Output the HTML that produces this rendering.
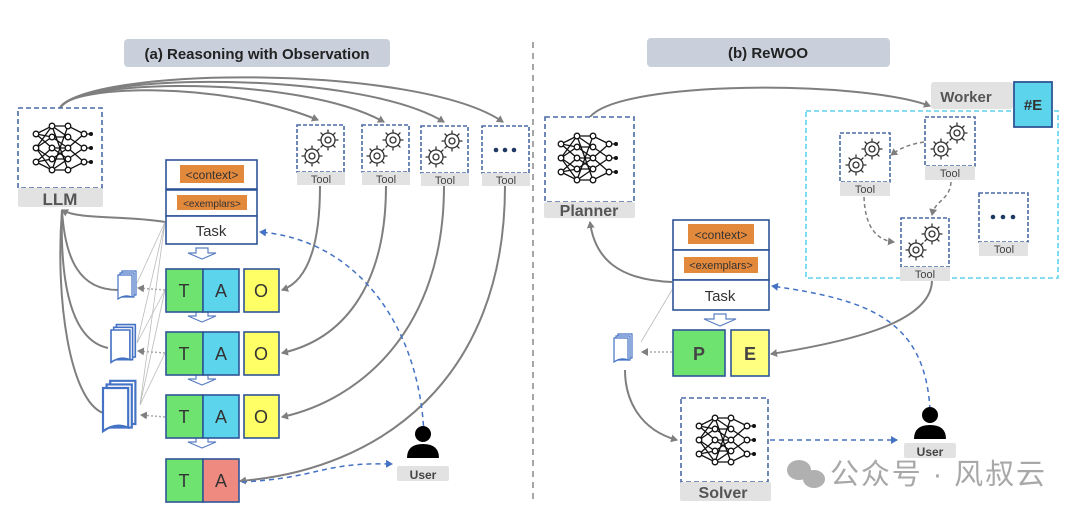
<!DOCTYPE html>
<html><head><meta charset="utf-8"><style>
html,body{margin:0;padding:0;background:#fff}
svg{display:block}
text{font-family:"Liberation Sans","Noto Sans CJK SC",sans-serif}
</style></head><body>
<svg width="1080" height="518" viewBox="0 0 1080 518" xmlns="http://www.w3.org/2000/svg">
<defs>
<marker id="ag" markerWidth="8" markerHeight="8" refX="6" refY="4" orient="auto" markerUnits="userSpaceOnUse"><path d="M0,0 L7,4 L0,8 z" fill="#7f7f7f"/></marker>
<marker id="ab" markerWidth="8" markerHeight="8" refX="6" refY="4" orient="auto" markerUnits="userSpaceOnUse"><path d="M0,0 L7,4 L0,8 z" fill="#4472c4"/></marker>
<g id="net" fill="none" stroke="#111" stroke-width="1.3">
<path d="M-24,-14 L-8,-22 L8,-22 L24,-14 M-24,0 L-8,-11 L8,-11 L24,0 M-24,14 L-8,0 L8,0 L24,14 M-24,-14 L-8,-11 L8,0 L24,14 M-24,14 L-8,11 L8,0 L24,-14 M-24,0 L-8,11 L8,11 L24,0 M-24,14 L-8,22 L8,22 L24,14 M-24,-14 L-8,0 L8,11 L24,0 M-24,0 L-8,22 L8,11 M-24,0 L-8,-22 L8,-11 M-8,-22 L8,22 M-8,22 L8,-22 M24,-14 L30,-14 M24,0 L30,0 M24,14 L30,14"/>
<g fill="#fff"><circle cx="-24" cy="-14" r="2.8"/><circle cx="-24" cy="0" r="2.8"/><circle cx="-24" cy="14" r="2.8"/><circle cx="-8" cy="-22" r="2.8"/><circle cx="-8" cy="-11" r="2.8"/><circle cx="-8" cy="0" r="2.8"/><circle cx="-8" cy="11" r="2.8"/><circle cx="-8" cy="22" r="2.8"/><circle cx="8" cy="-22" r="2.8"/><circle cx="8" cy="-11" r="2.8"/><circle cx="8" cy="0" r="2.8"/><circle cx="8" cy="11" r="2.8"/><circle cx="8" cy="22" r="2.8"/><circle cx="24" cy="-14" r="2.8"/><circle cx="24" cy="0" r="2.8"/><circle cx="24" cy="14" r="2.8"/></g>
<g fill="#111" stroke="none"><circle cx="31" cy="-14" r="2"/><circle cx="31" cy="0" r="2"/><circle cx="31" cy="14" r="2"/></g>
</g>
<g id="gear1" fill="none" stroke="#333" stroke-width="1.3"><circle r="7"/><circle r="3"/><path d="M0,-10.5V-7M0,7V10.5M-10.5,0H-7M7,0H10.5M-7.4,-7.4L-4.9,-4.9M4.9,4.9L7.4,7.4M-7.4,7.4L-4.9,4.9M4.9,-4.9L7.4,-7.4"/></g>
<g id="gears"><use href="#gear1" x="8" y="-8"/><use href="#gear1" x="-8" y="8"/></g>
<g id="doc" fill="#fff" stroke="#4472c4" stroke-width="1.2"><path d="M4,-4 h14 v24 h-14z"/><path d="M2,-2 h14 v24 h-14z"/><path d="M0,0 h14 v22 q-7,-3 -14,2z"/></g>
<g id="user"><circle cx="0" cy="-10" r="8" fill="#000"/><path d="M-16,14 q0,-14 16,-14 q16,0 16,14z" fill="#000"/></g>
</defs>

<!-- titles -->
<rect x="124" y="39" width="266" height="28" rx="4" fill="#c9d0dc"/>
<text x="257" y="59" font-size="15" font-weight="bold" text-anchor="middle" fill="#222">(a) Reasoning with Observation</text>
<rect x="647" y="38" width="243" height="29" rx="4" fill="#c9d0dc"/>
<text x="768" y="58" font-size="15" font-weight="bold" text-anchor="middle" fill="#222">(b) ReWOO</text>
<line x1="533" y1="42" x2="533" y2="500" stroke="#888" stroke-width="1.5" stroke-dasharray="6,5"/>

<!-- LEFT -->
<g fill="none" stroke="#7f7f7f" stroke-width="2">
<path d="M60,108 C70,85 220,80 318,120" marker-end="url(#ag)"/>
<path d="M60,108 C75,78 300,75 384,122" marker-end="url(#ag)"/>
<path d="M60,108 C80,72 360,70 444,122" marker-end="url(#ag)"/>
<path d="M60,108 C90,66 420,64 503,122" marker-end="url(#ag)"/>
<path d="M320,186 C320,240 310,280 282,290" marker-end="url(#ag)"/>
<path d="M386,186 C386,290 340,340 282,353" marker-end="url(#ag)"/>
<path d="M444,186 C444,330 360,400 282,417" marker-end="url(#ag)"/>
<path d="M505,186 C505,380 380,470 240,481" marker-end="url(#ag)"/>
<path d="M165,222 C120,215 80,220 62,210" marker-end="url(#ag)"/>
<path d="M118,290 C80,290 65,260 62,210"/>
<path d="M108,348 C70,340 60,280 62,210"/>
<path d="M103,413 C70,400 55,300 62,210"/>
</g>
<g stroke="#bbb" stroke-width="0.8" fill="none">
<path d="M165,222 L137,283 M165,222 L137,343 M165,222 L140,405 M165,290 L137,343 M165,290 L140,405 M165,353 L140,405"/>
</g>
<g stroke="#aaa" stroke-width="1.5" stroke-dasharray="2,2" fill="none">
<path d="M165,290 L138,288" marker-end="url(#ag)"/><path d="M165,353 L138,351" marker-end="url(#ag)"/><path d="M165,417 L141,415" marker-end="url(#ag)"/>
</g>
<rect x="18" y="108" width="84" height="80" fill="#fff" stroke="#4a6aa5" stroke-width="1.6" stroke-dasharray="5,3"/>
<use href="#net" x="60" y="148"/>
<rect x="18" y="188" width="85" height="19" rx="2" fill="#e2e2e2"/>
<text x="60" y="205" font-size="17" font-weight="bold" text-anchor="middle" fill="#555">LLM</text>

<g>
<rect x="297" y="125" width="47" height="47" fill="#fff" stroke="#4a6aa5" stroke-width="1.6" stroke-dasharray="4,2"/><use href="#gears" x="320" y="148"/>
<rect x="297" y="172" width="48" height="13" fill="#e2e2e2"/><text x="321" y="183" font-size="11" text-anchor="middle" fill="#444">Tool</text>
<rect x="362" y="125" width="47" height="47" fill="#fff" stroke="#4a6aa5" stroke-width="1.6" stroke-dasharray="4,2"/><use href="#gears" x="385" y="148"/>
<rect x="362" y="172" width="48" height="13" fill="#e2e2e2"/><text x="386" y="183" font-size="11" text-anchor="middle" fill="#444">Tool</text>
<rect x="421" y="126" width="47" height="47" fill="#fff" stroke="#4a6aa5" stroke-width="1.6" stroke-dasharray="4,2"/><use href="#gears" x="444" y="149"/>
<rect x="421" y="173" width="48" height="13" fill="#e2e2e2"/><text x="445" y="184" font-size="11" text-anchor="middle" fill="#444">Tool</text>
<rect x="482" y="126" width="47" height="47" fill="#fff" stroke="#4a6aa5" stroke-width="1.6" stroke-dasharray="4,2"/>
<circle cx="496" cy="150" r="2.3" fill="#1f3864"/><circle cx="505" cy="150" r="2.3" fill="#1f3864"/><circle cx="514" cy="150" r="2.3" fill="#1f3864"/>
<rect x="482" y="173" width="48" height="13" fill="#e2e2e2"/><text x="506" y="184" font-size="11" text-anchor="middle" fill="#444">Tool</text>
</g>

<g stroke="#2f5597" stroke-width="1.6" fill="#fff">
<rect x="166" y="160" width="91" height="29"/><rect x="166" y="190" width="91" height="26"/><rect x="166" y="216" width="91" height="28"/>
</g>
<rect x="180" y="165" width="64" height="18" fill="#e3893c"/><text x="212" y="179" font-size="12" text-anchor="middle" fill="#333">&lt;context&gt;</text>
<rect x="177" y="195" width="70" height="15" fill="#e3893c"/><text x="212" y="207" font-size="10" text-anchor="middle" fill="#333">&lt;exemplars&gt;</text>
<text x="211" y="236" font-size="15" text-anchor="middle" fill="#333">Task</text>

<g fill="#fff" stroke="#5b7fc4" stroke-width="1.2">
<path d="M196,248 h12 v5 h8 l-14,6 l-14,-6 h8z"/>
<path d="M196,311 h12 v5 h8 l-14,6 l-14,-6 h8z"/>
<path d="M196,374 h12 v5 h8 l-14,6 l-14,-6 h8z"/>
<path d="M196,437 h12 v5 h8 l-14,6 l-14,-6 h8z"/>
</g>
<g stroke="#2f5597" stroke-width="1.6" font-size="18" text-anchor="middle">
<rect x="166" y="269" width="37" height="43" fill="#6fe36f"/><rect x="203" y="269" width="36" height="43" fill="#5bd4ec"/><rect x="244" y="269" width="35" height="43" fill="#ffff66"/>
<rect x="166" y="332" width="37" height="43" fill="#6fe36f"/><rect x="203" y="332" width="36" height="43" fill="#5bd4ec"/><rect x="244" y="332" width="35" height="43" fill="#ffff66"/>
<rect x="166" y="395" width="37" height="43" fill="#6fe36f"/><rect x="203" y="395" width="36" height="43" fill="#5bd4ec"/><rect x="244" y="395" width="35" height="43" fill="#ffff66"/>
<rect x="166" y="459" width="37" height="43" fill="#6fe36f"/><rect x="203" y="459" width="36" height="43" fill="#ef8a80"/>
</g>
<g font-size="18" text-anchor="middle" fill="#333">
<text x="184" y="297">T</text><text x="221" y="297">A</text><text x="261" y="297">O</text>
<text x="184" y="360">T</text><text x="221" y="360">A</text><text x="261" y="360">O</text>
<text x="184" y="423">T</text><text x="221" y="423">A</text><text x="261" y="423">O</text>
<text x="184" y="487">T</text><text x="221" y="487">A</text>
</g>
<use href="#doc" x="118" y="275"/>
<g transform="translate(111,330) scale(1.35)"><use href="#doc"/></g>
<g transform="translate(103,388) scale(1.8)"><use href="#doc"/></g>

<g fill="none" stroke="#4472c4" stroke-width="1.5" stroke-dasharray="5,4">
<path d="M424,435 C420,330 360,240 260,232" marker-end="url(#ab)"/>
<path d="M242,482 C320,478 320,462 392,464" marker-end="url(#ab)"/>
</g>
<use href="#user" x="423" y="444"/>
<rect x="397" y="466" width="52" height="15" rx="2" fill="#e2e2e2"/><text x="423" y="479" font-size="12" font-weight="bold" text-anchor="middle" fill="#444">User</text>

<!-- RIGHT -->
<g fill="none" stroke="#7f7f7f" stroke-width="2">
<path d="M590,117 C620,80 860,80 930,106" marker-end="url(#ag)"/>
<path d="M672,282 C620,280 595,260 590,222" marker-end="url(#ag)"/>
<path d="M932,280 C932,320 860,340 771,354" marker-end="url(#ag)"/>
<path d="M625,370 C625,400 640,430 677,440" marker-end="url(#ag)"/>
</g>
<path d="M672,290 L641,342" stroke="#bbb" stroke-width="0.8"/>
<path d="M672,352 L642,352" stroke="#aaa" stroke-width="1.5" stroke-dasharray="2,2" fill="none" marker-end="url(#ag)"/>
<rect x="545" y="117" width="89" height="85" fill="#fff" stroke="#4a6aa5" stroke-width="1.6" stroke-dasharray="5,3"/>
<use href="#net" x="585" y="158"/>
<rect x="544" y="202" width="91" height="16" rx="2" fill="#e2e2e2"/><text x="589" y="216" font-size="16" font-weight="bold" text-anchor="middle" fill="#555">Planner</text>

<rect x="931" y="82" width="82" height="27" rx="3" fill="#e2e2e2"/><text x="966" y="102" font-size="15" font-weight="bold" text-anchor="middle" fill="#555">Worker</text>
<rect x="806" y="111" width="252" height="167" fill="none" stroke="#5bd4ec" stroke-width="1.6" stroke-dasharray="5,3"/>
<rect x="1014" y="82" width="38" height="45" fill="#5bd4ec" stroke="#2f5597" stroke-width="1.8"/><text x="1033" y="110" font-size="15" font-weight="bold" text-anchor="middle" fill="#333">#E</text>
<g fill="none" stroke="#7f7f7f" stroke-width="1.5" stroke-dasharray="4,3">
<path d="M924,142 C905,145 898,150 891,155" marker-end="url(#ag)"/>
<path d="M951,182 C950,200 935,200 932,215" marker-end="url(#ag)"/>
<path d="M864,197 C865,225 875,240 894,242" marker-end="url(#ag)"/>
</g>
<rect x="840" y="133" width="50" height="49" fill="#fff" stroke="#4a6aa5" stroke-width="1.6" stroke-dasharray="4,2"/><use href="#gears" x="864" y="157"/>
<rect x="840" y="182" width="50" height="14" fill="#e2e2e2"/><text x="865" y="193" font-size="11" text-anchor="middle" fill="#444">Tool</text>
<rect x="925" y="117" width="50" height="49" fill="#fff" stroke="#4a6aa5" stroke-width="1.6" stroke-dasharray="4,2"/><use href="#gears" x="949" y="141"/>
<rect x="925" y="166" width="50" height="14" fill="#e2e2e2"/><text x="950" y="177" font-size="11" text-anchor="middle" fill="#444">Tool</text>
<rect x="901" y="218" width="48" height="49" fill="#fff" stroke="#4a6aa5" stroke-width="1.6" stroke-dasharray="4,2"/><use href="#gears" x="924" y="242"/>
<rect x="900" y="267" width="50" height="14" fill="#e2e2e2"/><text x="925" y="278" font-size="11" text-anchor="middle" fill="#444">Tool</text>
<rect x="979" y="193" width="49" height="49" fill="#fff" stroke="#4a6aa5" stroke-width="1.6" stroke-dasharray="4,2"/>
<circle cx="993" cy="217" r="2.3" fill="#1f3864"/><circle cx="1003" cy="217" r="2.3" fill="#1f3864"/><circle cx="1013" cy="217" r="2.3" fill="#1f3864"/>
<rect x="979" y="242" width="49" height="14" fill="#e2e2e2"/><text x="1004" y="253" font-size="11" text-anchor="middle" fill="#444">Tool</text>

<g stroke="#2f5597" stroke-width="1.6" fill="#fff">
<rect x="673" y="220" width="96" height="30"/><rect x="673" y="250" width="96" height="30"/><rect x="673" y="280" width="96" height="30"/>
</g>
<rect x="688" y="224" width="66" height="20" fill="#e3893c"/><text x="721" y="239" font-size="12" text-anchor="middle" fill="#333">&lt;context&gt;</text>
<rect x="684" y="257" width="74" height="16" fill="#e3893c"/><text x="721" y="269" font-size="11" text-anchor="middle" fill="#333">&lt;exemplars&gt;</text>
<text x="720" y="301" font-size="15" text-anchor="middle" fill="#333">Task</text>
<path d="M714,314 h12 v5 h10 l-16,7 l-16,-7 h10z" fill="#fff" stroke="#5b7fc4" stroke-width="1.2"/>
<rect x="673" y="330" width="52" height="46" fill="#6fe36f" stroke="#2f5597" stroke-width="1.6"/>
<rect x="731" y="330" width="38" height="46" fill="#ffff80" stroke="#2f5597" stroke-width="1.6"/>
<text x="699" y="360" font-size="18" font-weight="bold" text-anchor="middle" fill="#444">P</text>
<text x="750" y="360" font-size="18" font-weight="bold" text-anchor="middle" fill="#444">E</text>
<use href="#doc" x="614" y="338"/>

<rect x="681" y="398" width="87" height="84" fill="#fff" stroke="#4a6aa5" stroke-width="1.6" stroke-dasharray="5,3"/>
<use href="#net" x="723" y="440"/>
<rect x="680" y="482" width="91" height="19" rx="2" fill="#e2e2e2"/><text x="723" y="498" font-size="16" font-weight="bold" text-anchor="middle" fill="#555">Solver</text>

<g fill="none" stroke="#4472c4" stroke-width="1.5" stroke-dasharray="5,4">
<path d="M930,410 C925,320 870,300 772,286" marker-end="url(#ab)"/>
<path d="M770,440 L897,440" marker-end="url(#ab)"/>
</g>
<use href="#user" x="930" y="425"/>
<rect x="904" y="443" width="52" height="15" rx="2" fill="#e2e2e2"/><text x="930" y="456" font-size="12" font-weight="bold" text-anchor="middle" fill="#444">User</text>

<!-- watermark -->
<g fill="#b0b0b0"><ellipse cx="799" cy="470" rx="12" ry="10"/><ellipse cx="814" cy="479" rx="11" ry="9"/></g>
<text x="830" y="484" font-size="29" fill="#a8a8a8" textLength="215">公众号 · 风叔云</text>
</svg>
</body></html>
